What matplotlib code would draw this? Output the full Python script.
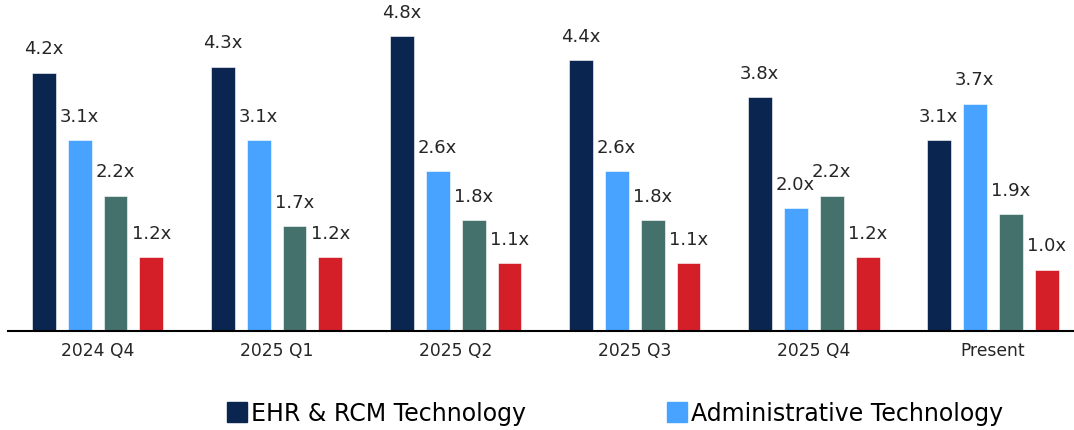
import numpy as np
from matplotlib import pyplot as plt
from matplotlib.patches import Patch

periods = ["2024 Q4", "2025 Q1", "2025 Q2", "2025 Q3", "2025 Q4", "Present"]
ehr_rcm = [4.2, 4.3, 4.8, 4.4, 3.8, 3.1]
admin_tech = [3.1, 3.1, 2.6, 2.6, 2.0, 3.7]
series_3 = [2.2, 1.7, 1.8, 1.8, 2.2, 1.9]
series_4 = [1.2, 1.2, 1.1, 1.1, 1.2, 1.0]

legend_labels = ["EHR & RCM Technology", "Administrative Technology"]
colors = ["#0A2650", "#47A3FF", "#45716C", "#D41F28"]


def drawChart():
    fig = plt.figure(figsize=(10.74, 4.31), dpi=100)
    ax = fig.add_axes([8 / 1074, 99 / 431, 1066 / 1074, 332 / 431])

    x = np.arange(len(periods))
    width = 0.134
    step = 0.201
    all_series = [ehr_rcm, admin_tech, series_3, series_4]
    for i, vals in enumerate(all_series):
        pos = x + (i - 1.5) * step
        bars = ax.bar(pos, vals, width, color=colors[i], edgecolor="white",
                      linewidth=0.4)
        for b, v in zip(bars, vals):
            ax.annotate("%.1fx" % v, (b.get_x() + b.get_width() / 2, v),
                        xytext=(0, 11), textcoords="offset points",
                        ha="center", va="bottom", fontsize=13,
                        color="#262626")

    ax.set_xlim(-0.5, 5.455)
    ax.set_ylim(0, 5.4)
    ax.set_xticks(x)
    ax.set_xticklabels(periods, fontsize=12.3, color="#262626")
    ax.tick_params(axis="x", length=0, pad=7)
    ax.set_yticks([])
    for s in ["top", "right", "left"]:
        ax.spines[s].set_visible(False)
    ax.spines["bottom"].set_linewidth(1.5)
    ax.spines["bottom"].set_color("black")

    handles = [Patch(color=colors[0]), Patch(color=colors[1])]
    fig.legend(handles, legend_labels, loc="center left",
               bbox_to_anchor=(227 / 1074, 1 - 414 / 431), ncol=2,
               frameon=False, fontsize=17, handlelength=0.85,
               handleheight=0.95, handletextpad=0.15, columnspacing=6.0,
               borderpad=0, borderaxespad=0)

    fig.savefig("out.png", dpi=100)


if __name__ == "__main__":
    drawChart()
